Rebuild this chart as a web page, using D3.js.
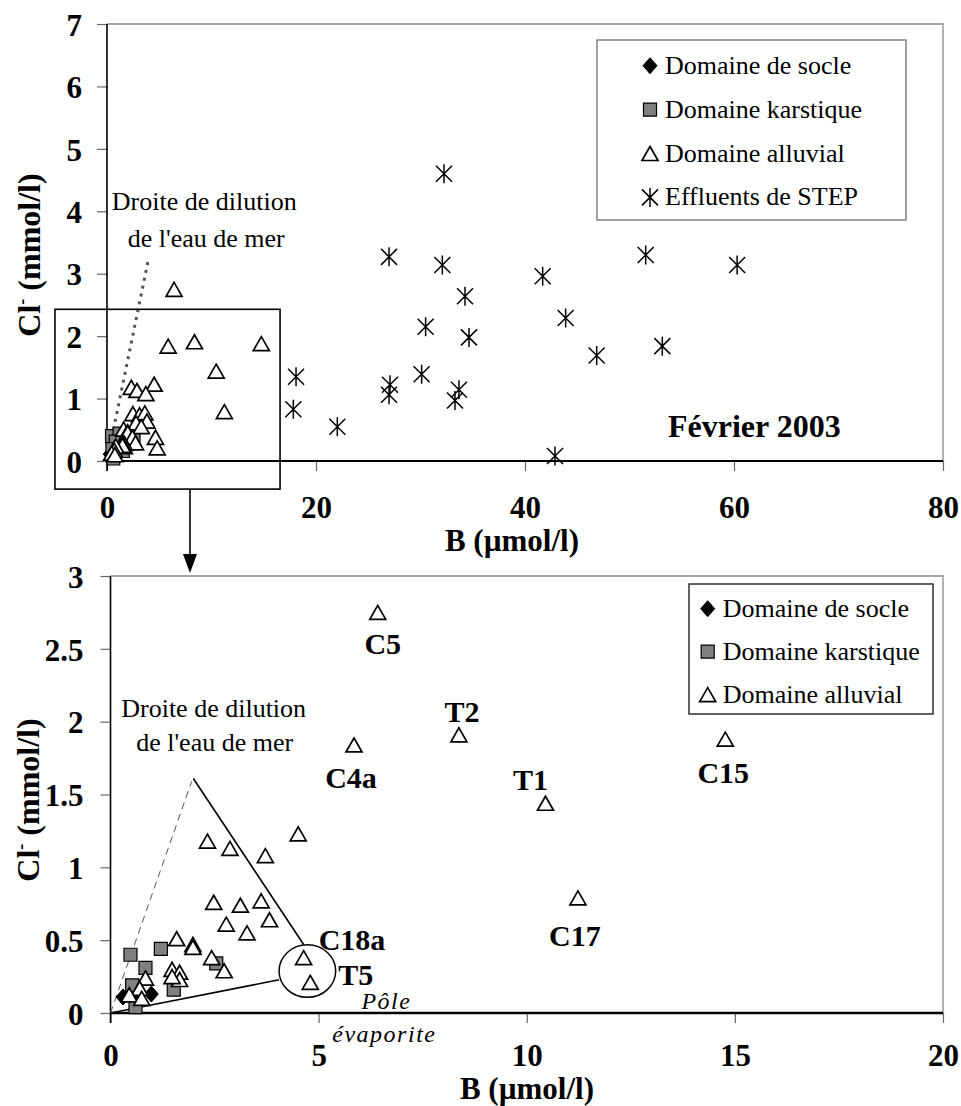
<!DOCTYPE html>
<html><head><meta charset="utf-8">
<script src="https://cdn.jsdelivr.net/npm/d3@7"></script>
<style>
body{margin:0;background:#fff}
svg{display:block}
text{font-family:"Liberation Serif","Times New Roman",serif;fill:#000}
</style>
</head><body>
<svg id="chart" width="961" height="1106"></svg>
<script>
// ---------------- DATA ----------------
// [B (µmol/l), Cl- (mmol/l)]
const socle = [[0.30,0.11],[0.65,0.12],[0.98,0.13]];
const karstique = [[0.48,0.40],[1.21,0.44],[0.84,0.31],[0.52,0.19],[1.52,0.16],[0.60,0.04],[2.54,0.34]];
const alluvial = [
  [6.42,2.75],[8.37,1.91],[5.85,1.84],[10.45,1.44],[11.23,0.79],[14.77,1.88],
  [4.51,1.23],[2.33,1.18],[2.87,1.13],[3.72,1.08],
  [2.48,0.76],[3.12,0.74],[3.62,0.77],[3.82,0.64],[2.78,0.61],[3.28,0.55],
  [1.59,0.51],[1.98,0.47],[1.98,0.45],[2.43,0.38],[2.73,0.29],
  [1.48,0.30],[1.66,0.28],[1.66,0.23],[1.48,0.25],
  [4.64,0.38],[4.80,0.21],
  [0.84,0.24],[0.70,0.17],[0.45,0.125],[0.75,0.10]
];
const alluvialIds = ["C5","T2","C4a","T1","C17","C15","","","","","","","","","","","","","","","","","","","","C18a","T5","","","",""];
const step = [
  [32.25,4.60],[26.99,3.27],[32.09,3.14],[34.26,2.64],[30.49,2.15],[34.64,1.98],
  [30.11,1.39],[27.08,1.22],[26.99,1.06],[33.68,1.14],[33.30,0.97],
  [41.69,2.96],[43.89,2.29],[46.86,1.69],[51.55,3.30],[53.14,1.84],[42.87,0.08],
  [60.30,3.14],[18.09,1.35],[17.83,0.83],[22.04,0.55]
];
const topXTicks = [0,20,40,60,80];
const topYTicks = [0,1,2,3,4,5,6,7];
const botXTicks = [0,5,10,15,20];
const botYTicks = [0,0.5,1,1.5,2,2.5,3];
const botYTickLabels = ["0","0.5","1","1.5","2","2.5","3"];
const seaLineTop = [[0,0],[3.95,3.22]];
const seaLineBot = [[0,0],[1.95,1.59]];
const evapLineA = [[1.99,1.61],[4.64,0.47]];
const evapLineB = [[0,0],[4.05,0.228]];
const evapPole = {B:4.73, Cl:0.288, rB:0.68, rCl:0.18};
const zoomBox = {x0:-4.98, x1:16.56, y0:-0.45, y1:2.43, arrowB:7.94};
const legendTop = ["Domaine de socle","Domaine karstique","Domaine alluvial","Effluents de STEP"];
const legendBot = ["Domaine de socle","Domaine karstique","Domaine alluvial"];

// ---------------- STYLE / LAYOUT ----------------
const FONT_TICK = 31, FONT_TITLE = 31, FONT_TXT = 26;
const labelOffsets = {
  C5:{dx:5,dy:42,a:"middle"}, T2:{dx:3,dy:-13,a:"middle"}, C4a:{dx:-3,dy:43,a:"middle"},
  T1:{dx:-15,dy:-13,a:"middle"}, C15:{dx:-2,dy:44,a:"middle"}, C17:{dx:-3,dy:48,a:"middle"},
  C18a:{dx:15,dy:-8,a:"start"}, T5:{dx:28,dy:3,a:"start"}
};

const svg = d3.select("#chart");

function symbolPath(type){
  switch(type){
    case "diamond": return "M0,-8L7,0L0,8L-7,0Z";
    case "square": return "M-6.5,-6.5H6.5V6.5H-6.5Z";
    case "triangle": return "M0,-7L8,7L-8,7Z";
    case "star": return "M-8,-8L8,8M-8,8L8,-8M0,-9.5V9.5";
  }
}
function styleMarker(sel, type){
  sel.attr("d", symbolPath(type));
  if(type==="diamond") sel.attr("fill","#000").attr("stroke","#000").attr("stroke-width",1);
  if(type==="square") sel.attr("fill","#808080").attr("stroke","#000").attr("stroke-width",1.2);
  if(type==="triangle") sel.attr("fill","#fff").attr("stroke","#000").attr("stroke-width",1.7);
  if(type==="star") sel.attr("fill","none").attr("stroke","#000").attr("stroke-width",1.5);
}
const types = ["diamond","square","triangle","star"];

function drawPanel(o){
  const g = svg.append("g");
  const x = d3.scaleLinear().domain(o.xDomain).range([o.left, o.right]);
  const y = d3.scaleLinear().domain(o.yDomain).range([o.bottom, o.top]);

  g.append("path").attr("d",`M${o.left},${o.top}H${o.right}V${o.bottom}`)
    .attr("fill","none").attr("stroke","#888").attr("stroke-width",1.3);

  const xa = g.append("g").attr("transform",`translate(0,${o.bottom})`)
    .call(d3.axisBottom(x).tickValues(o.xTicks).tickSize(10).tickSizeOuter(0).tickFormat(d3.format("d")));
  xa.select(".domain").remove();
  xa.selectAll(".tick line").attr("stroke","#666").attr("stroke-width",1.2);
  xa.selectAll("text").attr("y",o.xLabelDy).attr("dy",null)
    .style("font-size",FONT_TICK+"px").style("font-weight","bold").attr("fill","#000");

  const ya = g.append("g").attr("transform",`translate(${o.left},0)`)
    .call(d3.axisLeft(y).tickValues(o.yTicks).tickSize(10).tickSizeOuter(0)
      .tickFormat((d,i)=>o.yLabels ? o.yLabels[i] : d));
  ya.select(".domain").remove();
  ya.selectAll(".tick line").attr("stroke","#666").attr("stroke-width",1.2);
  ya.selectAll("text").attr("x",o.yLabelX).attr("dy","0.36em")
    .style("font-size",FONT_TICK+"px").style("font-weight","bold").attr("fill","#000");

  g.append("line").attr("x1",o.left).attr("x2",o.left).attr("y1",o.top).attr("y2",o.bottom+10)
    .attr("stroke","#000").attr("stroke-width",1.6);
  g.append("line").attr("x1",o.left).attr("x2",o.right).attr("y1",o.bottom).attr("y2",o.bottom)
    .attr("stroke","#000").attr("stroke-width",o.xAxisWidth);

  g.append("text").attr("x",o.xTitleX).attr("y",o.bottom+o.xTitleDy).attr("text-anchor","middle")
    .style("font-size",FONT_TITLE+"px").style("font-weight","bold").text("B (µmol/l)");
  const yt = g.append("text").attr("transform",`translate(${o.yTitleX},${o.yTitleY}) rotate(-90)`)
    .attr("text-anchor","middle").style("font-size","32px").style("font-weight","bold");
  yt.append("tspan").text("Cl");
  yt.append("tspan").attr("dy",-12).style("font-size","18px").text("-");
  yt.append("tspan").attr("dy",12).text(" (mmol/l)");

  return {g,x,y};
}

// ---------------- TOP PANEL ----------------
const T = drawPanel({xDomain:[0,80], yDomain:[0,7], left:107, right:943, top:24, bottom:461,
  xTicks:topXTicks, yTicks:topYTicks, yLabelX:-25, xAxisWidth:1.8, xLabelDy:57, xTitleDy:90,
  xTitleX:512, yTitleX:40, yTitleY:255});

const lineT = d3.line().x(d=>T.x(d[0])).y(d=>T.y(d[1]));
T.g.append("path").attr("d",lineT(seaLineTop)).attr("fill","none")
  .attr("stroke","#555").attr("stroke-width",3).attr("stroke-dasharray","3,5");

T.g.append("rect").attr("x",T.x(zoomBox.x0)).attr("y",T.y(zoomBox.y1))
  .attr("width",T.x(zoomBox.x1)-T.x(zoomBox.x0)).attr("height",T.y(zoomBox.y0)-T.y(zoomBox.y1))
  .attr("fill","none").attr("stroke","#000").attr("stroke-width",1.6);

[socle,karstique,alluvial,step].forEach((arr,i)=>{
  T.g.append("g").selectAll("path").data(arr).join("path")
    .attr("transform",d=>`translate(${T.x(d[0])},${T.y(d[1])})`)
    .call(styleMarker, types[i]);
});

const seaEndT = seaLineTop[1];
T.g.append("text").attr("x",T.x(seaEndT[0])+56).attr("y",T.y(seaEndT[1])-50).attr("text-anchor","middle")
  .style("font-size",FONT_TXT+"px").text("Droite de dilution");
T.g.append("text").attr("x",T.x(seaEndT[0])+58).attr("y",T.y(seaEndT[1])-13).attr("text-anchor","middle")
  .style("font-size",FONT_TXT+"px").text("de l'eau de mer");
T.g.append("text").attr("x",943-275).attr("y",461-24)
  .style("font-size","32px").style("font-weight","bold").text("Février 2003");

function legend(g, labels, bx, by, bw, bh, mx, my0, step, stroke){
  g.append("rect").attr("x",bx).attr("y",by).attr("width",bw).attr("height",bh)
    .attr("fill","#fff").attr("stroke",stroke).attr("stroke-width",1.4);
  labels.forEach((lab,i)=>{
    const yy = my0 + i*step;
    g.append("path").attr("transform",`translate(${mx},${yy})`).call(styleMarker, types[i]);
    g.append("text").attr("x",mx+15).attr("y",yy+8).style("font-size",FONT_TXT+"px").text(lab);
  });
}
legend(T.g, legendTop, 597, 40, 309, 180, 650, 65.7, 43.9, "#777");

// ---------------- BOTTOM PANEL ----------------
const B = drawPanel({xDomain:[0,20], yDomain:[0,3], left:110.5, right:943, top:576, bottom:1013,
  xTicks:botXTicks, yTicks:botYTicks, yLabels:botYTickLabels, yLabelX:-27, xAxisWidth:2.6,
  xLabelDy:53, xTitleDy:86, xTitleX:527, yTitleX:39, yTitleY:800});

const ax = T.x(zoomBox.arrowB);
svg.append("line").attr("x1",ax).attr("x2",ax).attr("y1",T.y(zoomBox.y0)).attr("y2",556)
  .attr("stroke","#000").attr("stroke-width",1.6);
svg.append("path").attr("d",`M${ax-7},554L${ax+7},554L${ax},573Z`).attr("fill","#000");

const lineB = d3.line().x(d=>B.x(d[0])).y(d=>B.y(d[1]));
B.g.append("path").attr("d",lineB(seaLineBot)).attr("fill","none")
  .attr("stroke","#555").attr("stroke-width",1).attr("stroke-dasharray","7,5");
B.g.append("path").attr("d",lineB(evapLineA)).attr("fill","none").attr("stroke","#000").attr("stroke-width",1.6);
B.g.append("path").attr("d",lineB(evapLineB)).attr("fill","none").attr("stroke","#000").attr("stroke-width",1.6);
const ecx = B.x(evapPole.B), ecy = B.y(evapPole.Cl);
B.g.append("ellipse").attr("cx",ecx).attr("cy",ecy)
  .attr("rx",B.x(evapPole.rB)-B.x(0)).attr("ry",B.y(0)-B.y(evapPole.rCl))
  .attr("fill","none").attr("stroke","#000").attr("stroke-width",1.5);

[socle,karstique,alluvial].forEach((arr,i)=>{
  B.g.append("g").selectAll("path").data(arr.filter(d=>d[0]<=20 && d[1]<=3)).join("path")
    .attr("transform",d=>`translate(${B.x(d[0])},${B.y(d[1])})`)
    .call(styleMarker, types[i]);
});

alluvial.forEach((d,i)=>{
  const id = alluvialIds[i];
  if(!id) return;
  const off = labelOffsets[id];
  B.g.append("text").attr("x",B.x(d[0])+off.dx).attr("y",B.y(d[1])+off.dy)
    .attr("text-anchor",off.a).style("font-size","30px").style("font-weight","bold").text(id);
});

const seaEndB = seaLineBot[1];
B.g.append("text").attr("x",B.x(seaEndB[0])+22).attr("y",B.y(seaEndB[1])-64).attr("text-anchor","middle")
  .style("font-size",FONT_TXT+"px").text("Droite de dilution");
B.g.append("text").attr("x",B.x(seaEndB[0])+23).attr("y",B.y(seaEndB[1])-30).attr("text-anchor","middle")
  .style("font-size",FONT_TXT+"px").text("de l'eau de mer");
B.g.append("text").attr("x",ecx+79).attr("y",ecy+38).attr("text-anchor","middle")
  .style("font-size","24px").style("font-style","italic").style("letter-spacing","1.5px").text("Pôle");
B.g.append("text").attr("x",ecx+77).attr("y",ecy+71).attr("text-anchor","middle")
  .style("font-size","24px").style("font-style","italic").style("letter-spacing","1.5px").text("évaporite");

legend(B.g, legendBot, 689, 584, 244, 130, 707.7, 608.7, 43, "#222");
</script>
</body></html>
